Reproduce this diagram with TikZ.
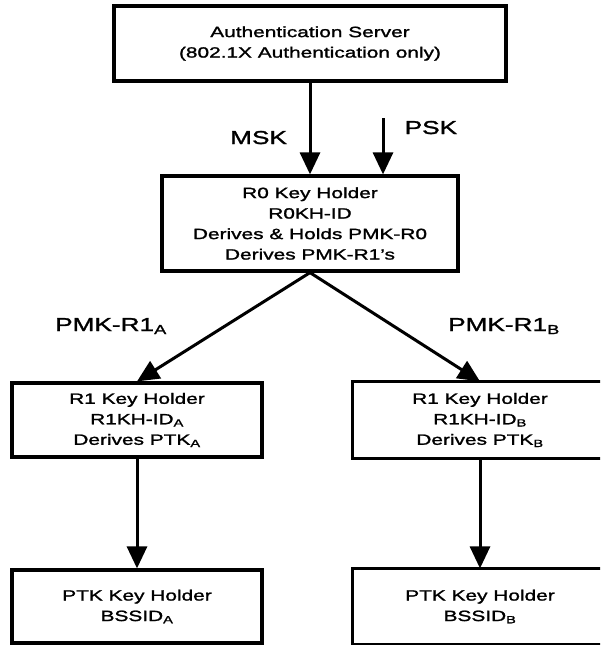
\documentclass[tikz,border=0pt]{standalone}
\usepackage{fontspec}
\setmainfont{Liberation Sans}[FakeStretch=1.4,FakeBold=1.5]
\usetikzlibrary{arrows.meta}
\begin{document}
\begin{tikzpicture}[x=1pt,y=-1pt,
  box/.style={draw, line width=3.2pt, align=center, inner sep=0pt,
    font=\fontsize{14.9}{20.5}\selectfont},
  lbl/.style={inner sep=0pt, anchor=base west,
    font=\fontsize{18.7}{22}\selectfont},
  arr/.style={line width=3pt, -{Triangle[width=20pt,length=22pt]}}]
  \path[use as bounding box] (0,0) rectangle (600,645);
  \clip (0,0) rectangle (600,645);

  % key holders
  \node[box, minimum width=392pt, minimum height=75pt] (as) at (310,43.5)
    {Authentication Server\\(802.1X Authentication only)};
  \node[box, minimum width=296pt, minimum height=95pt] (r0) at (310,223.5)
    {R0 Key Holder\\R0KH-ID\\Derives \& Holds PMK-R0\\Derives PMK-R1's};
  \node[box, minimum width=250pt, minimum height=74pt] (r1a) at (137,420)
    {R1 Key Holder\\R1KH-ID\textsubscript{A}\\Derives PTK\textsubscript{A}};
  \node[box, minimum width=250pt, minimum height=73pt] (ptka) at (137,606.5)
    {PTK Key Holder\\BSSID\textsubscript{A}};
  % the right-hand boxes run past the right edge of the figure
  \node[box, draw=none, minimum width=250pt, minimum height=74pt] (r1b) at (480,420)
    {R1 Key Holder\\R1KH-ID\textsubscript{B}\\Derives PTK\textsubscript{B}};
  \node[box, draw=none, minimum width=250pt, minimum height=73pt] (ptkb) at (480,606.5)
    {PTK Key Holder\\BSSID\textsubscript{B}};
  \draw[line width=3.2pt] ([xshift=-1pt]r1b.north west) rectangle ([xshift=40pt]r1b.south east);
  \draw[line width=3.2pt] ([xshift=-1pt]ptkb.north west) rectangle ([xshift=40pt]ptkb.south east);

  % key labels
  \node[lbl] (msk) at (230,144) {MSK};
  \node[lbl] (psk) at (404.5,134) {PSK};
  \node[lbl] (pmka) at (55,331) {PMK-R1\textsubscript{A}};
  \node[lbl] (pmkb) at (448,331) {PMK-R1\textsubscript{B}};

  % key flow
  \coordinate (pskin) at (383,118);
  \draw[arr] (as.south) -- (r0.north);
  \draw[arr] (pskin) -- (pskin |- r0.north);
  \draw[arr] (r0.south) -- (r1a.north);
  \draw[arr] (r0.south) -- (r1b.north);
  \draw[arr] (r1a.south) -- (ptka.north);
  \draw[arr] (r1b.south) -- (ptkb.north);
\end{tikzpicture}
\end{document}
